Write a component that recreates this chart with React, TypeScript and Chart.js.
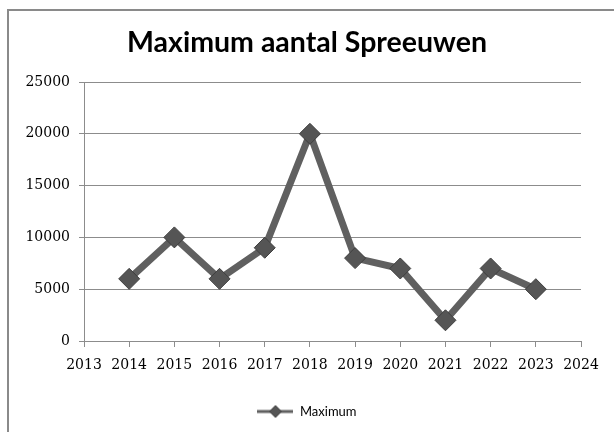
import React, { useEffect, useRef } from "react";
import { Chart, registerables } from "chart.js";

Chart.register(...registerables);

const chartTitle = "Maximum aantal Spreeuwen";
const seriesLabel = "Maximum";
const years = [2014, 2015, 2016, 2017, 2018, 2019, 2020, 2021, 2022, 2023];
const maxValues = [6000, 10000, 6000, 9000, 20000, 8000, 7000, 2000, 7000, 5000];
const xAxisMin = 2013;
const xAxisMax = 2024;
const yAxisMin = 0;
const yAxisMax = 25000;
const yAxisStep = 5000;

const LINE_COLOR = "#606060";
const MARKER_FILL = "#555555";
const MARKER_BORDER = "#3e3e3e";
const GRID_COLOR = "#8c8c8c";
const TICK_FONT = { family: "DejaVu Serif", size: 14 };

function makeLegendIcon(): HTMLCanvasElement {
  const c = document.createElement("canvas");
  c.width = 36;
  c.height = 14;
  const ctx = c.getContext("2d");
  if (ctx) {
    ctx.strokeStyle = LINE_COLOR;
    ctx.lineWidth = 3;
    ctx.beginPath();
    ctx.moveTo(0, 7);
    ctx.lineTo(36, 7);
    ctx.stroke();
    ctx.fillStyle = MARKER_FILL;
    ctx.strokeStyle = MARKER_BORDER;
    ctx.lineWidth = 1;
    ctx.beginPath();
    ctx.moveTo(12, 7);
    ctx.lineTo(18, 1);
    ctx.lineTo(24, 7);
    ctx.lineTo(18, 13);
    ctx.closePath();
    ctx.fill();
    ctx.stroke();
  }
  return c;
}

export default function App() {
  const canvasRef = useRef<HTMLCanvasElement | null>(null);

  useEffect(() => {
    if (!canvasRef.current) return;
    const points = years.map((y, i) => ({ x: y, y: maxValues[i] }));
    const icon = makeLegendIcon();
    const chart = new Chart(canvasRef.current, {
      type: "line",
      data: {
        datasets: [
          {
            label: seriesLabel,
            data: points,
            borderColor: LINE_COLOR,
            borderWidth: 7,
            backgroundColor: MARKER_FILL,
            pointStyle: "rectRot",
            pointRadius: 10.5,
            pointBackgroundColor: MARKER_FILL,
            pointBorderColor: MARKER_BORDER,
            pointBorderWidth: 1,
            tension: 0,
            yAxisID: "y",
          },
        ],
      },
      options: {
        responsive: false,
        animation: false,
        devicePixelRatio: 1,
        layout: { padding: { left: 0, right: 0, top: 0, bottom: 4 } },
        plugins: {
          title: {
            display: true,
            text: chartTitle,
            color: "#000",
            font: { family: "Lato", size: 28.5, weight: "bold", lineHeight: 1.2 },
            padding: { top: 26, bottom: 21.8 },
          },
          legend: {
            display: true,
            position: "bottom",
            labels: {
              usePointStyle: true,
              pointStyle: icon as any,
              pointStyleWidth: 36,
              color: "#000",
              font: { family: "Lato", size: 13 },
              padding: 10,
            },
          },
          tooltip: { enabled: false },
        },
        scales: {
          x: {
            type: "linear",
            min: xAxisMin,
            max: xAxisMax,
            afterFit: (s: any) => {
              s.height = 54;
            },
            ticks: {
              stepSize: 1,
              callback: (v: any) => String(v),
              color: "#000",
              font: TICK_FONT,
              padding: 10,
              maxRotation: 0,
              autoSkip: false,
            },
            grid: {
              drawOnChartArea: false,
              drawTicks: true,
              tickLength: 6,
              color: GRID_COLOR,
            },
            border: { display: true, color: GRID_COLOR },
          },
          y: {
            position: "left",
            min: yAxisMin,
            max: yAxisMax,
            afterFit: (s: any) => {
              s.width = 84;
            },
            ticks: {
              stepSize: yAxisStep,
              callback: (v: any) => String(v),
              color: "#000",
              font: TICK_FONT,
              padding: 9,
            },
            grid: {
              color: GRID_COLOR,
              tickLength: 5,
            },
            border: { display: true, color: GRID_COLOR },
          },
          yRight: {
            position: "right",
            min: yAxisMin,
            max: yAxisMax,
            afterFit: (s: any) => {
              s.width = 33;
            },
            ticks: { display: false },
            grid: { display: false },
            border: { display: false },
          },
        },
      },
    } as any);
    return () => chart.destroy();
  }, []);

  return (
    <div style={{ position: "absolute", left: 0, top: 0, width: 614, height: 432, background: "#fff", overflow: "hidden" }}>
      <div
        style={{
          position: "absolute",
          left: 7,
          top: 9,
          right: -4,
          bottom: -4,
          borderLeft: "2px solid #8a8a8a",
          borderTop: "2px solid #8a8a8a",
        }}
      />
      <canvas ref={canvasRef} width={614} height={432} style={{ position: "absolute", left: 0, top: 0, width: 614, height: 432 }} />
    </div>
  );
}
